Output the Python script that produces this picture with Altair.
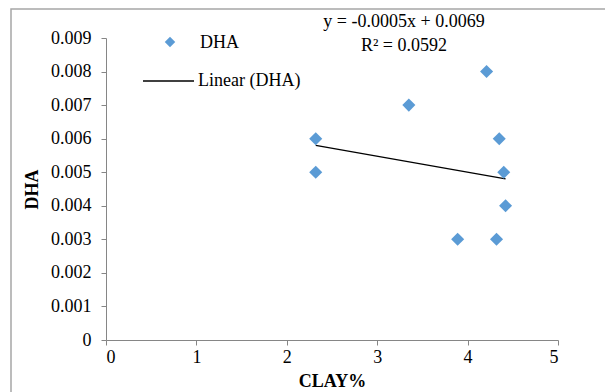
import altair as alt
import pandas as pd

clay = [2.32, 2.32, 3.35, 3.89, 4.21, 4.32, 4.35, 4.40, 4.42]
dha = [0.006, 0.005, 0.007, 0.003, 0.008, 0.003, 0.006, 0.005, 0.004]
trend_x = [2.32, 4.42]
trend_y = [0.0058, 0.0048]
eq_lines = ["y = -0.0005x + 0.0069", "R² = 0.0592"]
legend_labels = ["DHA", "Linear (DHA)"]
x_ticks = [0, 1, 2, 3, 4, 5]
y_ticks = [0, 0.001, 0.002, 0.003, 0.004, 0.005, 0.006, 0.007, 0.008, 0.009]

FONT = "Liberation Serif"
AXIS_GRAY = "#868686"
BLUE = "#5B9BD5"

pts = pd.DataFrame({"clay": clay, "dha": dha})
trend = pd.DataFrame({"clay": trend_x, "dha": trend_y})
one = pd.DataFrame({"k": [0]})

xs = alt.Scale(domain=[0, 5], nice=False, zero=True)
ys = alt.Scale(domain=[0, 0.009], nice=False, zero=True)

xaxis = alt.Axis(title="CLAY%", values=x_ticks, format="d", grid=False, labelOverlap=False,
                 domainColor=AXIS_GRAY, tickColor=AXIS_GRAY, tickSize=5,
                 labelFont=FONT, labelFontSize=18, labelColor="black", labelPadding=3,
                 titleFont=FONT, titleFontSize=18, titleFontWeight="bold", titleColor="black",
                 titlePadding=6)
yaxis = alt.Axis(title="DHA", values=y_ticks, grid=False, labelOverlap=False,
                 labelExpr="datum.value == 0 ? '0' : format(datum.value, '.3f')",
                 domainColor=AXIS_GRAY, tickColor=AXIS_GRAY, tickSize=5,
                 labelFont=FONT, labelFontSize=18, labelColor="black", labelPadding=10,
                 titleFont=FONT, titleFontSize=18, titleFontWeight="bold", titleColor="black",
                 titlePadding=9)

X = alt.X("clay:Q", scale=xs, axis=xaxis)
Y = alt.Y("dha:Q", scale=ys, axis=yaxis)

points = alt.Chart(pts).mark_point(shape="diamond", filled=True, size=170, color=BLUE, opacity=1).encode(
    x=X, y=Y,
)

line = alt.Chart(trend).mark_line(color="black", strokeWidth=1.3).encode(
    x=X, y=Y,
)

border = alt.Chart(one).mark_rect(fill=None, stroke="#A6A6A6", strokeWidth=1.5).encode(
    x=alt.value(-95), y=alt.value(-29), x2=alt.value(520), y2=alt.value(400)
)

leg_pt = alt.Chart(one).mark_point(shape="diamond", filled=True, size=110, color=BLUE, opacity=1).encode(
    x=alt.value(64), y=alt.value(4)
)
leg_t1 = alt.Chart(one).mark_text(text=legend_labels[0], font=FONT, fontSize=18, align="left",
                                  baseline="middle", color="black").encode(
    x=alt.value(94), y=alt.value(5)
)
leg_rule = alt.Chart(one).mark_rule(color="black", strokeWidth=1.3).encode(
    x=alt.value(37), x2=alt.value(88), y=alt.value(43)
)
leg_t2 = alt.Chart(one).mark_text(text=legend_labels[1], font=FONT, fontSize=18, align="left",
                                  baseline="middle", color="black").encode(
    x=alt.value(92), y=alt.value(43)
)
eq1 = alt.Chart(one).mark_text(text=eq_lines[0], font=FONT, fontSize=18, align="center",
                               baseline="middle", color="black").encode(
    x=alt.value(298), y=alt.value(-16)
)
eq2 = alt.Chart(one).mark_text(text=eq_lines[1], font=FONT, fontSize=18, align="center",
                               baseline="middle", color="black").encode(
    x=alt.value(298), y=alt.value(8)
)

chart = alt.layer(border, line, points, leg_pt, leg_t1, leg_rule, leg_t2, eq1, eq2).properties(
    width=452, height=302,
    autosize=alt.AutoSizeParams(type="none"),
    padding={"left": 106, "top": 38, "right": 47, "bottom": 52},
    background="white",
).configure_view(stroke=None).configure_axis(labelFont=FONT, titleFont=FONT)

chart.save("out.html", embed_options={"renderer": "svg", "actions": False})
